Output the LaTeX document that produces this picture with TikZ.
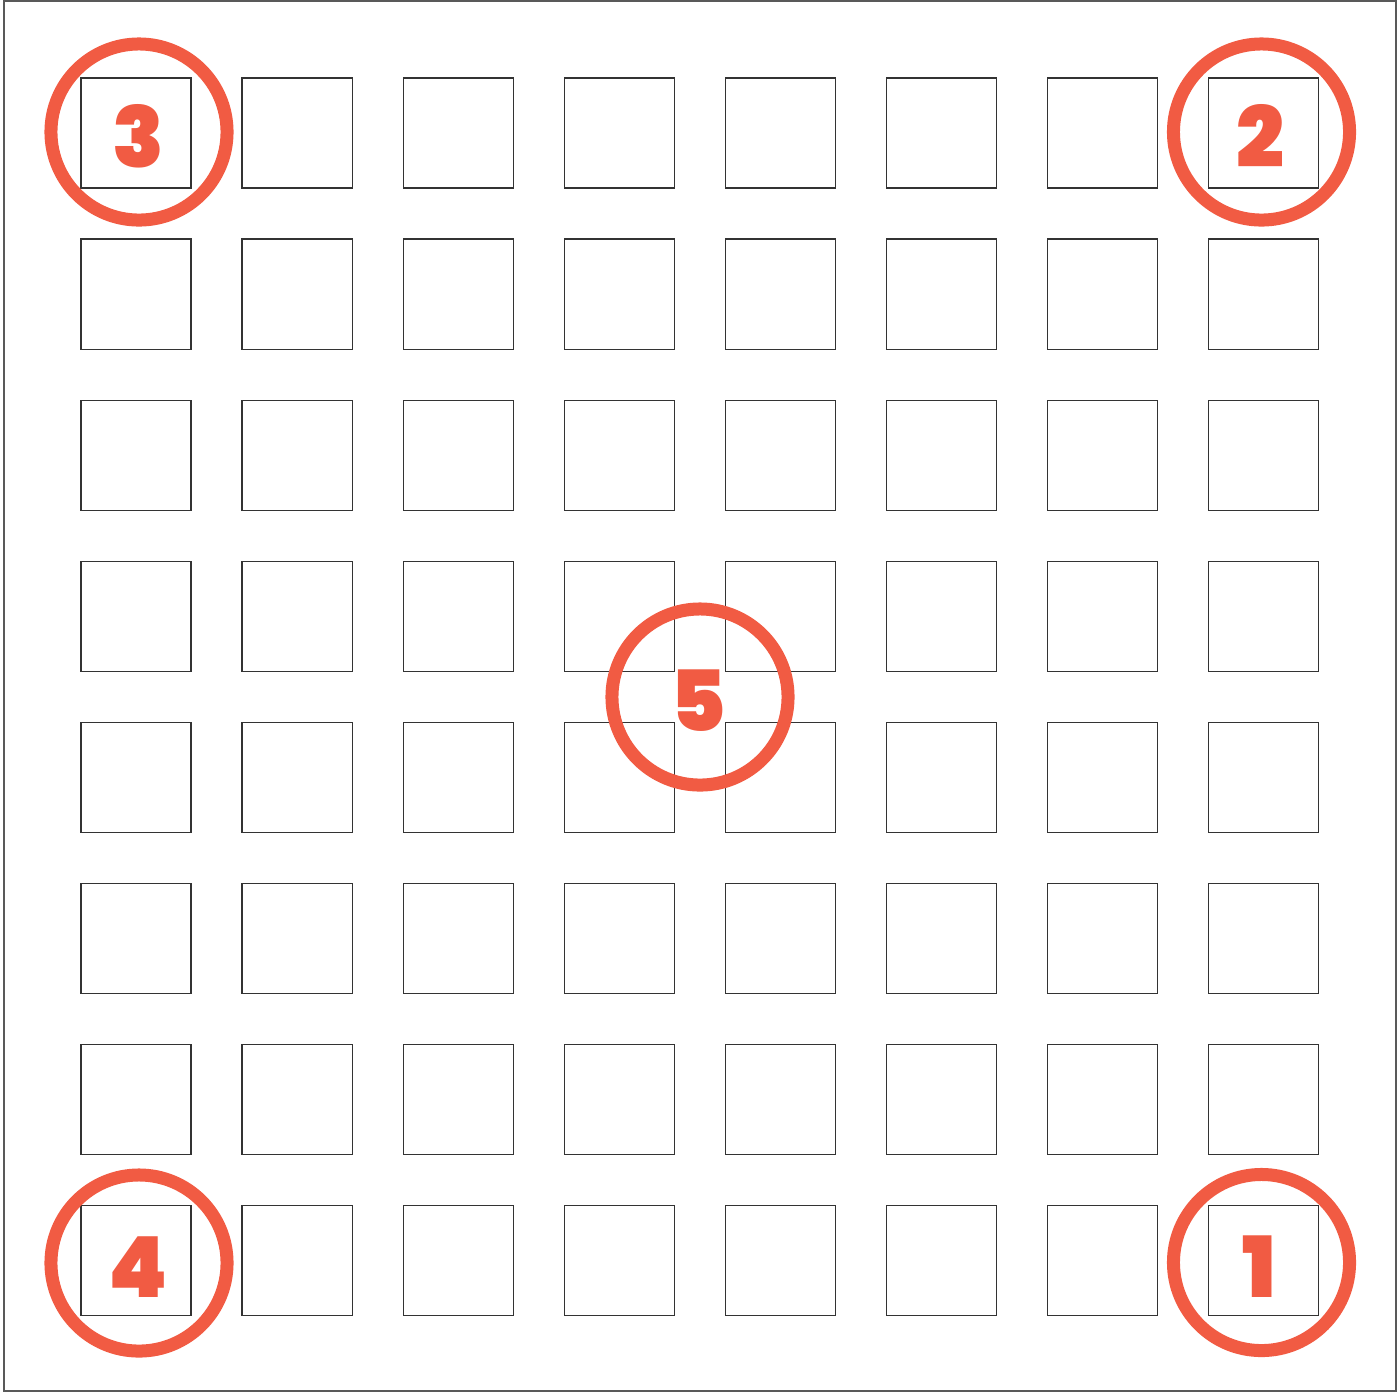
\documentclass[tikz,border=0pt]{standalone}
\usepackage{fontspec}
\newfontfamily\numfont{Poppins}[BoldFont={Poppins Black}]
\usepackage{xcolor}
\usetikzlibrary{positioning,shapes.geometric}
\definecolor{markred}{RGB}{241,91,67}

\begin{document}
\begin{tikzpicture}[
    x=0.01cm, y=-0.01cm,
    cell/.style = {draw=black!80, line width=0.35pt, minimum size=1.1cm,
                   inner sep=0pt},
    ring/.style = {circle, draw=markred, line width=0.13cm,
                   minimum size=1.76cm, inner sep=0pt},
    digit/.style = {text=markred, inner sep=0pt, yshift=-0.04cm,
                    font=\numfont\bfseries\fontsize{24}{24}\selectfont},
]
\useasboundingbox (0,0) rectangle (1400,1393);

%% ── Frame ─────────────────────────────────────────────────────────────────
\draw[black!65, line width=0.35pt] (4,1) rectangle (1396,1391);

%% ── Grid of cells ─────────────────────────────────────────────────────────
\foreach \col in {0,...,7}
  \foreach \row in {0,...,7}
    \node[cell] (c\col\row) at (136+161.1*\col, 133+161.1*\row) {};

%% ── Numbered rings ────────────────────────────────────────────────────────
\node[ring] (r1) at (1261.5,1262.5) {};
\node[ring] (r2) at (1261.5,132)    {};
\node[ring] (r3) at (139,132)       {};
\node[ring] (r4) at (139,1263)      {};
\node[ring] (r5) at (700,697)       {};

\node[digit, xshift=-0.02cm] (n1) at (r1) {1};
\node[digit, xshift=-0.01cm] (n2) at (r2) {2};
\node[digit, xshift=-0.01cm] (n3) at (r3) {3};
\node[digit, xshift=-0.01cm] (n4) at (r4) {4};
\node[digit, xshift=-0.02cm] (n5) at (r5) {5};

\end{tikzpicture}
\end{document}
